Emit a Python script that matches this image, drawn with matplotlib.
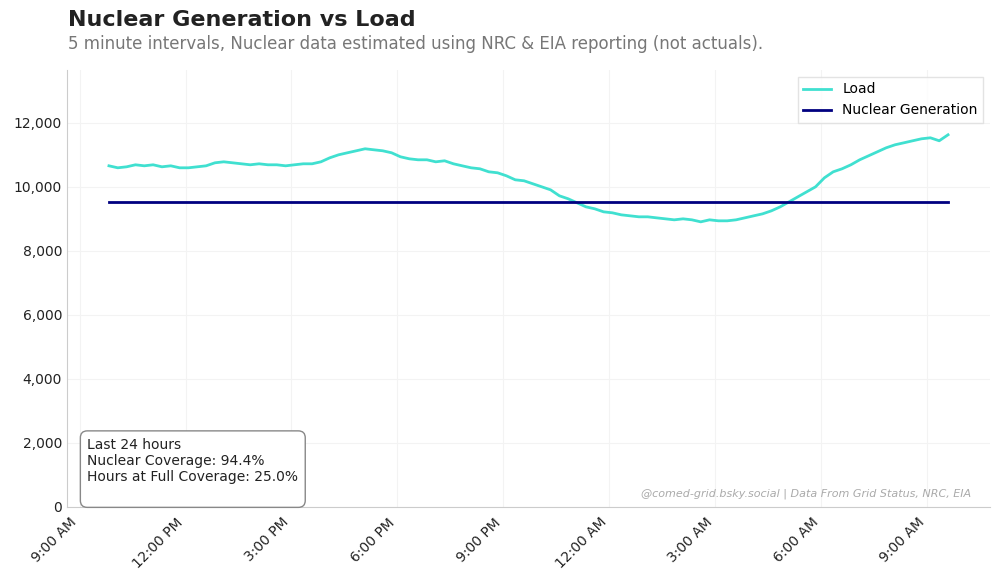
import pandas as pd
import matplotlib.pyplot as plt
import matplotlib.dates as mdates
from matplotlib.ticker import FuncFormatter

# load readings (MW), 15 minute steps starting 9:50 AM
load_mw = [
    10656, 10594, 10625, 10688, 10656, 10688, 10625, 10656, 10594, 10594,
    10625, 10656, 10750, 10781, 10750, 10719, 10688, 10719, 10688, 10688,
    10656, 10688, 10719, 10719, 10781, 10906, 11000, 11063, 11125, 11188,
    11156, 11125, 11063, 10938, 10875, 10844, 10844, 10781, 10813, 10719,
    10656, 10594, 10563, 10469, 10438, 10344, 10219, 10188, 10094, 10000,
    9906, 9719, 9625, 9500, 9375, 9313, 9219, 9188, 9125, 9094,
    9063, 9063, 9031, 9000, 8969, 9000, 8969, 8906, 8969, 8938,
    8938, 8969, 9031, 9094, 9156, 9250, 9375, 9531, 9688, 9844,
    10000, 10281, 10469, 10563, 10688, 10844, 10969, 11094, 11219, 11313,
    11375, 11438, 11500, 11531, 11438, 11625,
]
nuclear_mw = 9530
start_time = "2025-01-14 09:50"
step = "15min"

coverage_text = ("Last 24 hours\n"
                 "Nuclear Coverage: 94.4%\n"
                 "Hours at Full Coverage: 25.0%\n")
credit_text = "@comed-grid.bsky.social | Data From Grid Status, NRC, EIA"


def build_frame():
    idx = pd.date_range(start_time, periods=len(load_mw), freq=step)
    df = pd.DataFrame({'Load': load_mw}, index=idx)
    df['Nuclear'] = nuclear_mw
    return df


def plot_chart(df):
    fig = plt.figure(figsize=(10, 5.83), dpi=100)
    ax = fig.add_axes([0.067, 0.1304, 0.923, 0.7496])

    ax.plot(df.index, df['Load'], color='#40E0D0', lw=2, label='Load')
    ax.plot(df.index, df['Nuclear'], color='#000080', lw=2, label='Nuclear Generation')

    ax.set_ylim(0, 13650)
    ax.yaxis.set_major_formatter(FuncFormatter(lambda v, p: f'{int(v):,}'))
    ax.xaxis.set_major_locator(mdates.HourLocator(byhour=[0, 3, 6, 9, 12, 15, 18, 21]))
    ax.xaxis.set_major_formatter(mdates.DateFormatter('%-I:%M %p'))
    plt.setp(ax.get_xticklabels(), rotation=45, ha='right')
    ax.tick_params(axis='both', labelsize=10, length=0, colors='#222222')
    ax.tick_params(axis='x', pad=6)

    ax.grid(True, color='#f3f3f3', lw=0.8)
    for side in ['top', 'right']:
        ax.spines[side].set_visible(False)
    for side in ['left', 'bottom']:
        ax.spines[side].set_color('#cccccc')

    leg = ax.legend(loc='upper right', fontsize=10, frameon=True, fancybox=False)
    leg.get_frame().set_edgecolor('#dddddd')

    ax.text(0.022, 0.015, coverage_text, transform=ax.transAxes, fontsize=10,
            va='bottom', ha='left', color='#222222',
            bbox=dict(boxstyle='round,pad=0.5', facecolor='white', edgecolor='#888888'))
    ax.text(0.98, 0.018, credit_text, transform=ax.transAxes, fontsize=8,
            style='italic', color='#aaaaaa', ha='right', va='bottom')

    fig.text(0.068, 0.965, 'Nuclear Generation vs Load', fontsize=16,
             fontweight='bold', color='#222222', va='center')
    fig.text(0.068, 0.925, '5 minute intervals, Nuclear data estimated using NRC & EIA reporting (not actuals).',
             fontsize=12, color='#777777', va='center')

    fig.savefig('out.png', dpi=100)


if __name__ == "__main__":
    data = build_frame()
    plot_chart(data)
